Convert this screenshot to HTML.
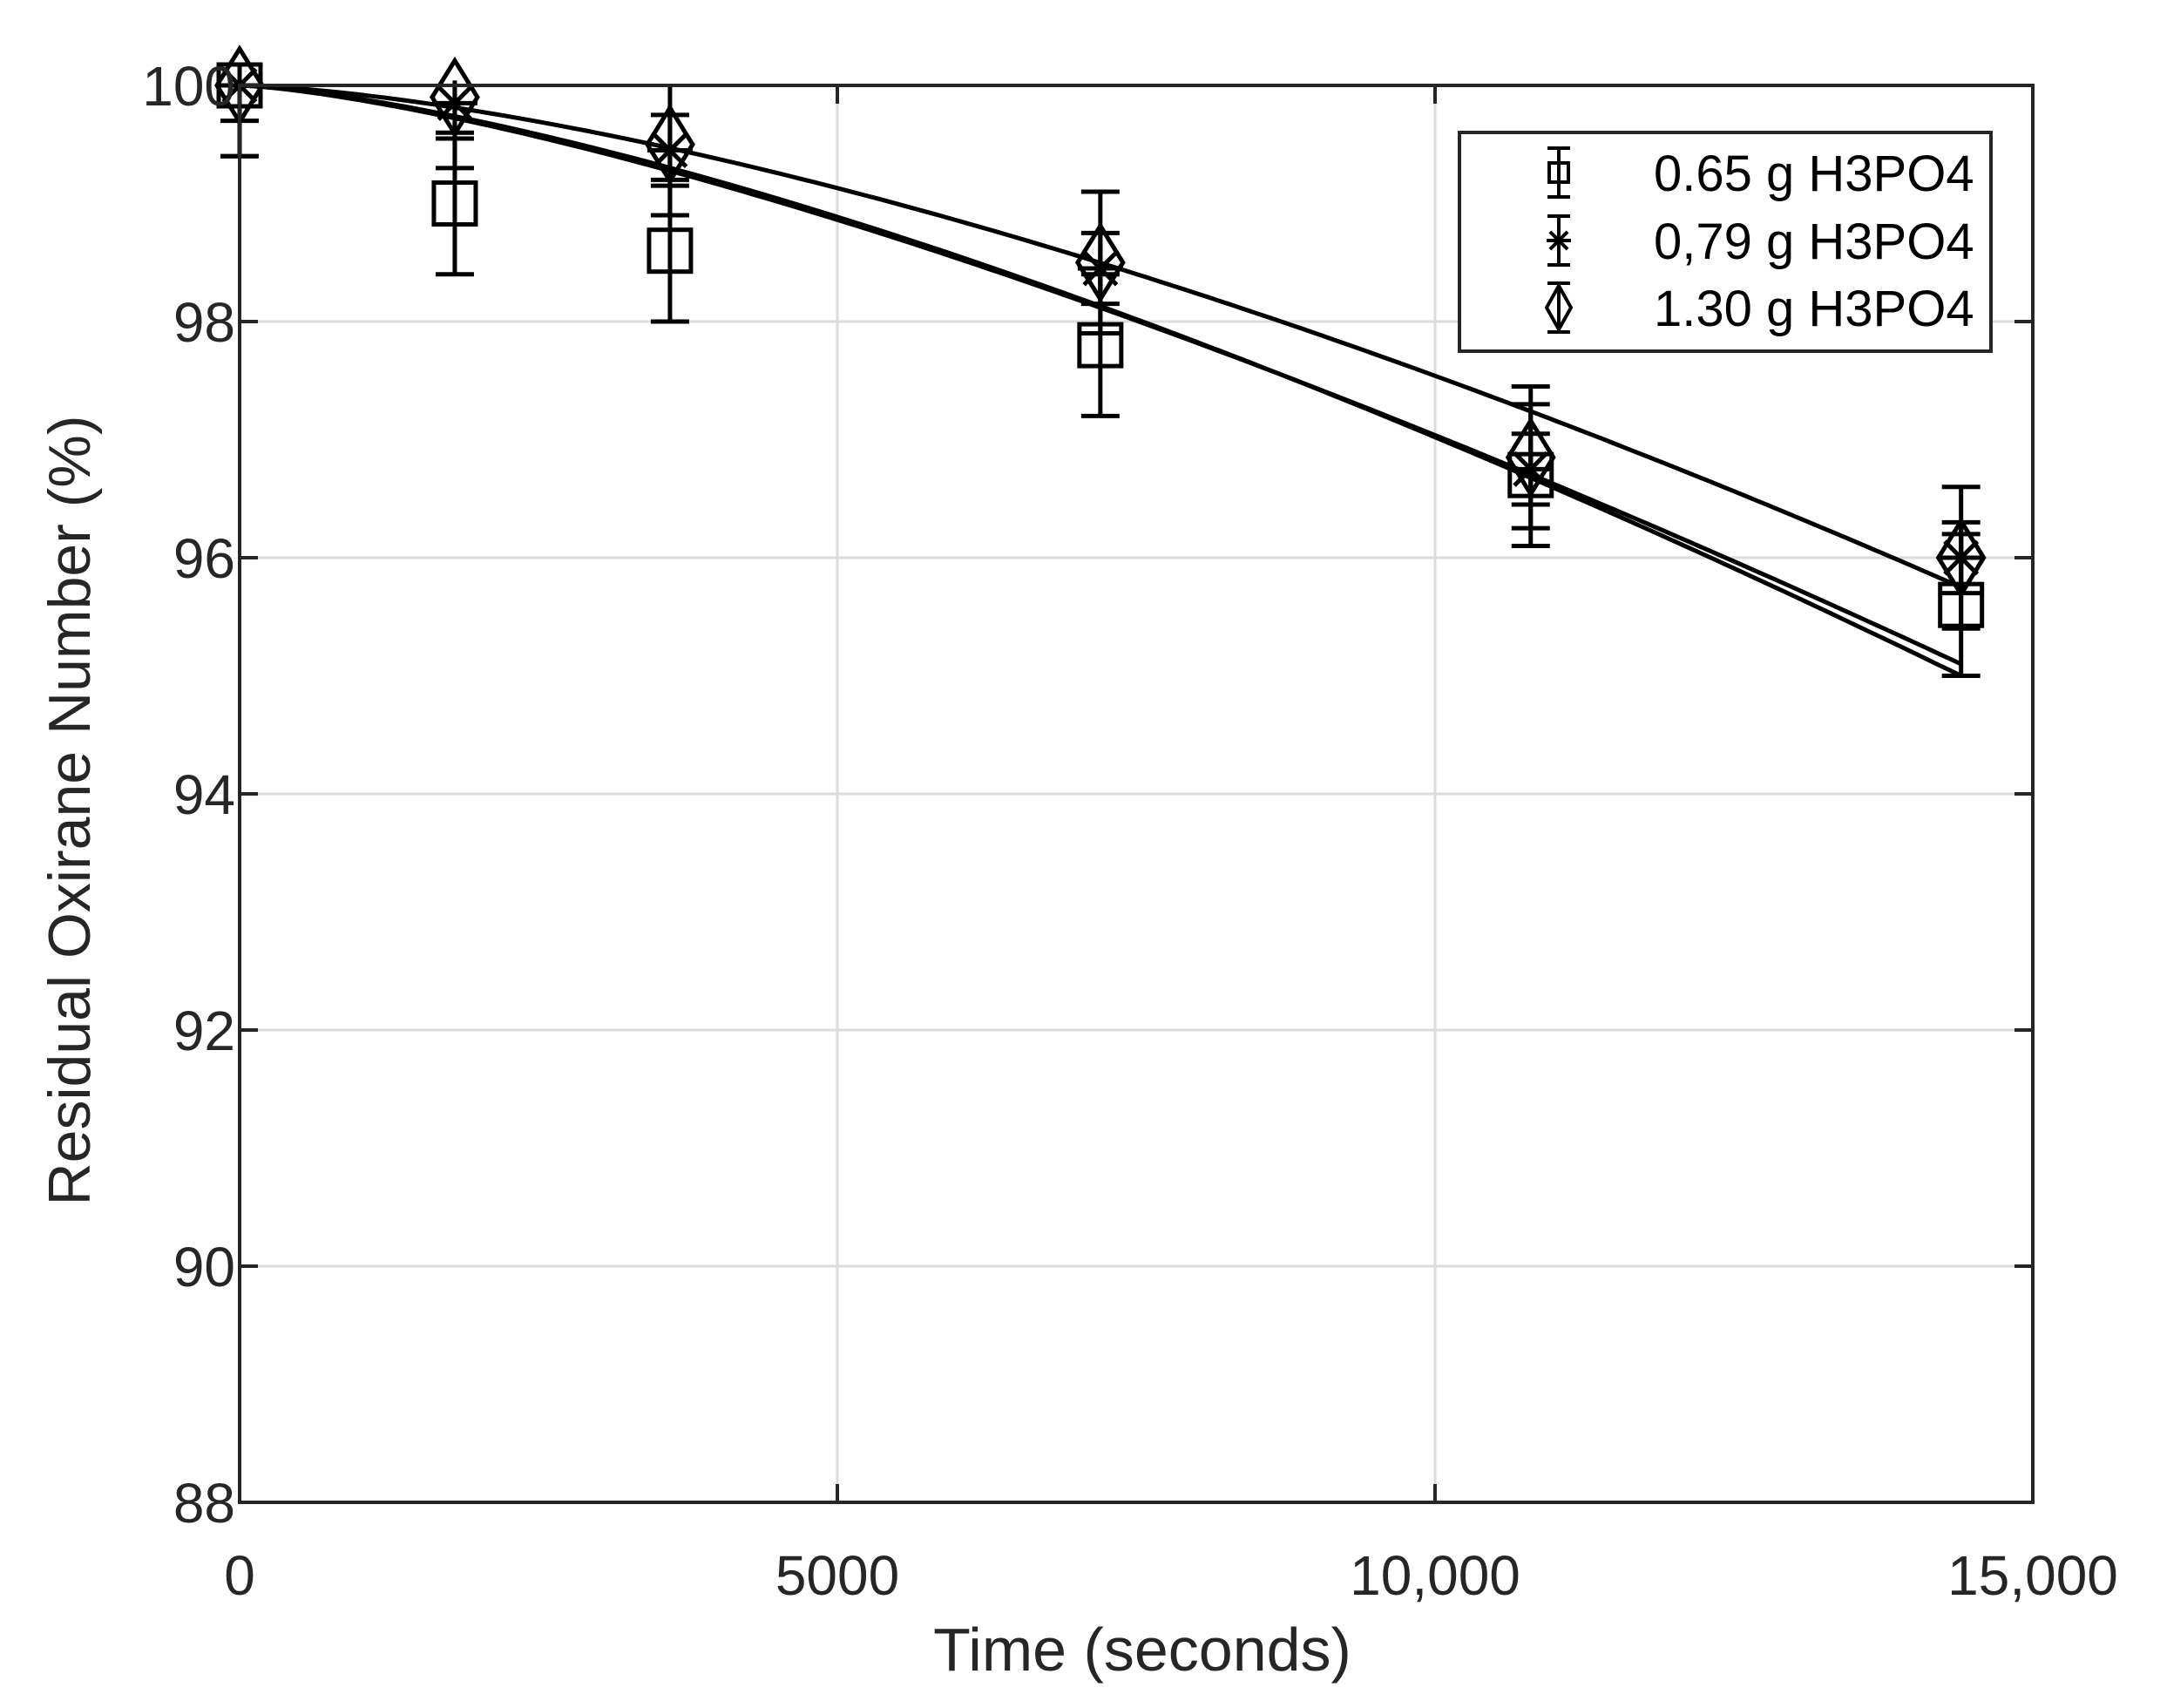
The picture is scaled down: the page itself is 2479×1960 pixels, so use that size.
<!DOCTYPE html>
<html><head><meta charset="utf-8"><style>
html,body{margin:0;padding:0;background:#fff;width:2479px;height:1960px;overflow:hidden}
svg text{font-family:"Liberation Sans",Arial,sans-serif;fill:#262626}
</style></head><body>
<svg id="s" width="2479" height="1960" xmlns="http://www.w3.org/2000/svg">
<rect width="2479" height="1960" fill="#fff"/>
<g id="grid" stroke="#dcdcdc" stroke-width="3"></g>
<g id="data"></g>
<rect x="275" y="98" width="2058" height="1626" fill="none" stroke="#262626" stroke-width="4"/>
<g id="ticks" stroke="#262626" stroke-width="4"></g>
<g id="labels" font-size="64"></g>
<text x="1311" y="1917" font-size="70" text-anchor="middle">Time (seconds)</text>
<text transform="translate(103,930) rotate(-90)" font-size="68" text-anchor="middle">Residual Oxirane Number (%)</text>
<g id="legend"></g>
</svg>
<script>
const NS="http://www.w3.org/2000/svg";
function el(p,t,a){const e=document.createElementNS(NS,t);for(const k in a)e.setAttribute(k,a[k]);p.appendChild(e);return e;}
const X=t=>275+t*2058/15000, Y=v=>98+(100-v)*135.5;
const grid=document.getElementById('grid'),ticks=document.getElementById('ticks'),lab=document.getElementById('labels');
for(let v=88;v<=100;v+=2){const y=Y(v);
 if(v>88&&v<100)el(grid,'line',{x1:275,x2:2333,y1:y,y2:y});
 el(ticks,'line',{x1:275,x2:296,y1:y,y2:y});el(ticks,'line',{x1:2312,x2:2333,y1:y,y2:y});
 const t=el(lab,'text',{x:270,y:y+23,'text-anchor':'end'});t.textContent=v;}
[[0,'0'],[5000,'5000'],[10000,'10,000'],[15000,'15,000']].forEach(([t,s])=>{const x=X(t);
 if(t>0&&t<15000)el(grid,'line',{x1:x,x2:x,y1:98,y2:1724});
 el(ticks,'line',{x1:x,x2:x,y1:1724,y2:1703});el(ticks,'line',{x1:x,x2:x,y1:98,y2:119});
 const e=el(lab,'text',{x:x,y:1830,'text-anchor':'middle'});e.textContent=s;});
const d=document.getElementById('data');
const g=el(d,'g',{stroke:'#000','stroke-width':5,fill:'none'});
function curve(pw,end14400){let pts=[];for(let t=0;t<=14400;t+=100){const c=(100-end14400)/Math.pow(14400,pw);pts.push(X(t).toFixed(1)+','+Y(100-c*Math.pow(t,pw)).toFixed(1));}el(g,'polyline',{points:pts.join(' ')});}
curve(1.5,95.75);curve(1.38,95.1);curve(1.42,95.0);
const T=[0,1800,3600,7200,10800,14400];
const S=[[100,99.0,98.6,97.8,96.7,95.6],[100,99.85,99.45,98.45,96.75,96.0],[100,99.9,99.5,98.5,96.85,96.0]];
function ebar(p,x,v,e){const y1=Math.max(Y(v+e),98),y2=Math.min(Y(v-e),1724);el(p,'line',{x1:x,x2:x,y1:y1,y2:y2});
 if(Y(v+e)>=98)el(p,'line',{x1:x-22,x2:x+22,y1:y1,y2:y1});el(p,'line',{x1:x-22,x2:x+22,y1:y2,y2:y2});}
function sq(p,x,y,r){el(p,'rect',{x:x-r,y:y-r,width:2*r,height:2*r});}
function star(p,x,y,r){el(p,'line',{x1:x-r,x2:x+r,y1:y,y2:y});el(p,'line',{x1:x,x2:x,y1:y-r,y2:y+r});const q=r*0.72;el(p,'line',{x1:x-q,x2:x+q,y1:y-q,y2:y+q});el(p,'line',{x1:x-q,x2:x+q,y1:y+q,y2:y-q});}
function dia(p,x,y,w,h){el(p,'polygon',{points:`${x},${y-h} ${x+w},${y} ${x},${y+h} ${x-w},${y}`});}
T.forEach((t,i)=>{const x=X(t);
 ebar(g,x,S[0][i],0.6);ebar(g,x,S[1][i],0.3);ebar(g,x,S[2][i],0.6);
 sq(g,x,Y(S[0][i]),24);star(g,x,Y(S[1][i]),26);dia(g,x,Y(S[2][i]),26,42);});
const L=document.getElementById('legend');
el(L,'rect',{x:1675,y:152,width:610,height:251,fill:'#fff',stroke:'#262626','stroke-width':4});
const lg=el(L,'g',{stroke:'#000','stroke-width':4,fill:'none'});
const names=['0.65 g H3PO4','0,79 g H3PO4','1.30 g H3PO4'],ys=[198,276,353],mx=1789;
ys.forEach((y,i)=>{el(lg,'line',{x1:mx,x2:mx,y1:y-28,y2:y+28});el(lg,'line',{x1:mx-13,x2:mx+13,y1:y-28,y2:y-28});el(lg,'line',{x1:mx-13,x2:mx+13,y1:y+28,y2:y+28});
 if(i==0)sq(lg,mx,y,11);if(i==1)star(lg,mx,y,14);if(i==2)dia(lg,mx,y,14,25);
 const t=el(L,'text',{x:1898,y:y+21,'font-size':58});t.style.fill='#000';t.textContent=names[i];});
</script>
</body></html>
